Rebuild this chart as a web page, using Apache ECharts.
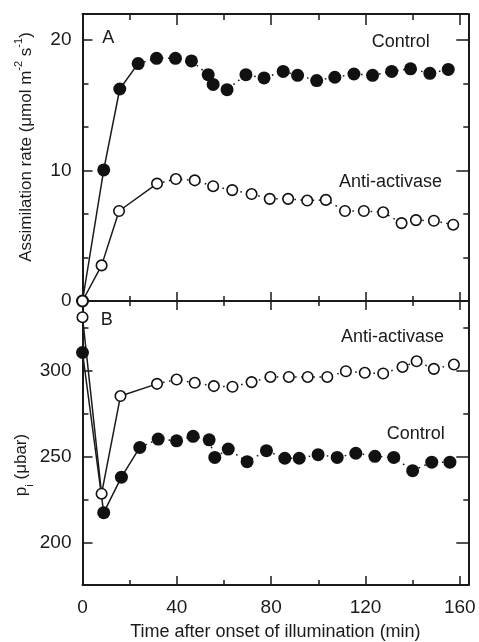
<!DOCTYPE html>
<html>
<head>
<meta charset="utf-8">
<script src="https://cdn.jsdelivr.net/npm/echarts@6/dist/echarts.min.js"></script>
<style>
html,body{margin:0;padding:0;background:#fff;}
#c{width:479px;height:642px;}
</style>
</head>
<body>
<div id="c"></div>
<script>
// ---- data ----
// Panel A: assimilation rate (µmol m-2 s-1)
const timeACtrl = [0, 9, 15.8, 23.6, 31.4, 39.4, 46.2, 53.3, 55.4, 61.3, 69.3, 77, 85.1, 91.2, 99.3, 107, 115.1, 123, 131.1, 139.1, 147.3, 155.1];
const assimCtrl = [0, 10.05, 16.25, 18.2, 18.6, 18.6, 18.4, 17.35, 16.6, 16.2, 17.35, 17.1, 17.6, 17.3, 16.9, 17.15, 17.4, 17.3, 17.6, 17.8, 17.45, 17.75];
const timeAAnti = [0, 8.1, 15.5, 31.6, 39.6, 47.6, 55.4, 63.5, 71.7, 79.4, 87.2, 95.3, 103.2, 111.3, 119.3, 127.5, 135.3, 141.4, 149, 157.2];
const assimAnti = [0, 2.73, 6.9, 9.0, 9.35, 9.25, 8.8, 8.5, 8.2, 7.83, 7.83, 7.7, 7.75, 6.9, 6.9, 6.8, 5.97, 6.2, 6.15, 5.85];
// Panel B: intercellular CO2 partial pressure pi (µbar)
const timeBCtrl = [0, 9, 16.5, 24.3, 32.1, 39.9, 46.9, 53.7, 56.1, 61.8, 69.8, 78, 85.8, 91.9, 99.9, 108, 115.9, 124, 132, 140, 148.1, 155.8];
const piCtrl = [310.5, 217.5, 238.1, 255.4, 260.2, 259.2, 261.8, 259.8, 249.6, 254.4, 247.1, 253.5, 249.1, 249.1, 251.2, 249.6, 252, 250.2, 249.6, 241.9, 246.8, 246.8];
const timeBAnti = [0, 8.1, 16.1, 31.6, 39.9, 47.6, 55.7, 63.6, 71.7, 79.7, 87.5, 95.5, 103.8, 111.7, 119.7, 127.5, 135.7, 141.7, 149, 157.5];
const piAnti = [331, 228.5, 285.2, 292.3, 294.8, 292.9, 291, 290.6, 293.3, 296.3, 296.3, 296.3, 296.3, 299.6, 298.7, 298.3, 302.1, 305.4, 301, 303.5];

// tick values
const xMajor = [0, 40, 80, 120, 160];
const xMinor = [20, 60, 100, 140];
const yAMajor = [0, 10, 20];
const yAMinor = [3.33, 6.67, 13.33, 16.67];
const yBMajor = [200, 250, 300];
const yBMinor = [225, 275, 325];

// ---- styling ----
const INK = '#1a1a1a';
const FONT = 'Liberation Sans';
const X_MIN = 0, X_MAX = 163.6;
const YA = [0, 22];
const YB = [175.5, 340.4];

const grids = [
  {left: 82.5, top: 14, width: 385.8, height: 287},
  {left: 82.5, top: 301, width: 385.8, height: 285.7}
];

function xAxis(grid, pos, ticks, len, showLine, labels, extra) {
  return Object.assign({
    type: 'value', gridIndex: grid, position: pos, min: X_MIN, max: X_MAX,
    axisLine: {show: showLine, onZero: false, lineStyle: {color: INK, width: 2}},
    axisTick: {show: true, inside: true, length: len, customValues: ticks, lineStyle: {color: INK, width: 1.5}},
    axisLabel: labels ? {show: true, customValues: labels, color: INK, fontFamily: FONT, fontSize: 19, margin: 13} : {show: false},
    splitLine: {show: false}
  }, extra || {});
}
function yAxis(grid, pos, range, ticks, len, showLine, labels) {
  return {
    type: 'value', gridIndex: grid, position: pos, min: range[0], max: range[1],
    axisLine: {show: showLine, onZero: false, lineStyle: {color: INK, width: 2}},
    axisTick: {show: true, inside: true, length: len, customValues: ticks, lineStyle: {color: INK, width: 1.5}},
    axisLabel: labels ? {show: true, customValues: labels, color: INK, fontFamily: FONT, fontSize: 19, margin: 11} : {show: false},
    splitLine: {show: false}
  };
}

const xAxes = [
  xAxis(0, 'bottom', xMajor, 9, true, null),            // 0 main A
  xAxis(0, 'bottom', xMinor, 5, false, null),
  xAxis(0, 'top', xMajor, 11, true, null),
  xAxis(0, 'top', xMinor, 6, false, null),
  xAxis(1, 'bottom', xMajor, 9, true, xMajor, {          // 4 main B
    name: 'Time after onset of illumination (min)', nameLocation: 'middle', nameGap: 38,
    nameTextStyle: {color: INK, fontFamily: FONT, fontSize: 18}
  }),
  xAxis(1, 'bottom', xMinor, 5, false, null),
  xAxis(1, 'top', xMajor, 9, true, null),
  xAxis(1, 'top', xMinor, 5, false, null)
];
const yAxes = [
  yAxis(0, 'left', YA, yAMajor, 10, true, yAMajor),       // 0 main A
  yAxis(0, 'left', YA, yAMinor, 6, false, null),
  yAxis(0, 'right', YA, yAMajor, 12, true, null),
  yAxis(0, 'right', YA, yAMinor, 5, false, null),
  yAxis(1, 'left', YB, yBMajor, 10, true, yBMajor),       // 4 main B
  yAxis(1, 'left', YB, yBMinor, 6, false, null),
  yAxis(1, 'right', YB, yBMajor, 12, true, null),
  yAxis(1, 'right', YB, yBMinor, 5, false, null)
];

function pairs(t, v) { return t.map((x, i) => [x, v[i]]); }

function curve(t, v, solidUpTo, filled, xi, yi, zSym) {
  const pts = pairs(t, v);
  return [
    {type: 'line', xAxisIndex: xi, yAxisIndex: yi, data: pts.slice(0, solidUpTo + 1), showSymbol: false,
     lineStyle: {color: INK, width: 1.5}, z: 2, silent: true, clip: false},
    {type: 'line', xAxisIndex: xi, yAxisIndex: yi, data: pts.slice(solidUpTo), showSymbol: false,
     lineStyle: {color: INK, width: 1.5, type: [1.6, 4.5]}, z: 2, silent: true, clip: false},
    {type: 'scatter', xAxisIndex: xi, yAxisIndex: yi, data: pts, clip: false, z: zSym, silent: true,
     symbol: 'circle', symbolSize: filled ? 13 : 10.5,
     itemStyle: filled ? {color: '#111', opacity: 1} : {color: '#fff', borderColor: '#111', borderWidth: 1.6, opacity: 1}}
  ];
}

const series = [].concat(
  curve(timeACtrl, assimCtrl, 3, true, 0, 0, 4),
  curve(timeAAnti, assimAnti, 3, false, 0, 0, 5),
  curve(timeBCtrl, piCtrl, 3, true, 4, 4, 4),
  curve(timeBAnti, piAnti, 3, false, 4, 4, 5)
);

function label(txt, x, y, size) {
  return {type: 'text', x: x, y: y, z: 10, silent: true,
    style: {text: txt, fill: INK, fontFamily: FONT, fontSize: size || 18, align: 'center', verticalAlign: 'middle'}};
}

const graphic = [
  label('A', 108.3, 38),
  label('B', 106.7, 320),
  label('Control', 400.8, 42),
  label('Anti-activase', 390.5, 182),
  label('Anti-activase', 392.5, 337),
  label('Control', 415.8, 434),
  {type: 'text', x: 24, y: 147, rotation: Math.PI / 2, z: 10, silent: true,
    style: {
      text: '{m|Assimilation rate (μmol m}{s|-2}{m| s}{s|-1}{m|)}',
      align: 'center', verticalAlign: 'middle', fill: INK,
      rich: {
        m: {fontFamily: FONT, fontSize: 17, lineHeight: 22, fill: INK, verticalAlign: 'bottom'},
        s: {fontFamily: FONT, fontSize: 11, lineHeight: 22, fill: INK, verticalAlign: 'top'}
      }
    }},
  {type: 'text', x: 24, y: 465, rotation: Math.PI / 2, z: 10, silent: true,
    style: {
      text: '{m|p}{b|i}{m| (μbar)}',
      align: 'center', verticalAlign: 'middle', fill: INK,
      rich: {
        m: {fontFamily: FONT, fontSize: 17, lineHeight: 22, fill: INK, verticalAlign: 'top'},
        b: {fontFamily: FONT, fontSize: 11, lineHeight: 22, fill: INK, verticalAlign: 'bottom'}
      }
    }}
];

const chart = echarts.init(document.getElementById('c'), null, {renderer: 'canvas'});
chart.setOption({
  animation: false,
  backgroundColor: '#fff',
  grid: grids,
  xAxis: xAxes,
  yAxis: yAxes,
  series: series,
  graphic: graphic
});
</script>
</body>
</html>
